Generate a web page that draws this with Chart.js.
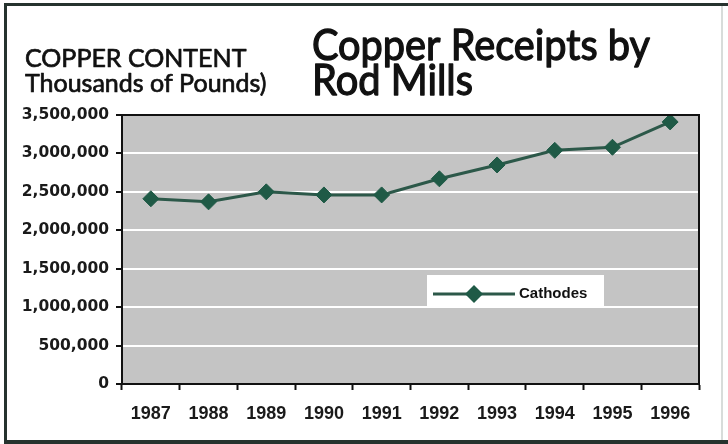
<!DOCTYPE html>
<html>
<head>
<meta charset="utf-8">
<script src="https://cdn.jsdelivr.net/npm/chart.js@4.4.1/dist/chart.umd.min.js"></script>
<style>
  html, body { margin: 0; padding: 0; background: #fff; }
  #chart { display: block; }
</style>
</head>
<body>
<canvas id="chart" width="728" height="444"></canvas>
<script>
// data
const years = ["1987", "1988", "1989", "1990", "1991", "1992", "1993", "1994", "1995", "1996"];
const cathodes = [2410000, 2370000, 2500000, 2460000, 2460000, 2670000, 2850000, 3040000, 3080000, 3410000];
const yTicks = [0, 500000, 1000000, 1500000, 2000000, 2500000, 3000000, 3500000];

const titleLines = ["Copper Receipts by", "Rod Mills"];
const unitLines = ["COPPER CONTENT", "Thousands of Pounds)"];

const GREEN = "#1f5a46";
const LINE = "#2c5849";
const PLOT_BG = "#c4c4c4";

// draw a text squeezed to a given width, slightly emboldened
function fitText(ctx, text, x, y, width, weight) {
  const w = ctx.measureText(text).width;
  ctx.save();
  ctx.translate(x, y);
  ctx.scale(Math.min(1, width / w), 1);
  ctx.fillText(text, 0, 0);
  if (weight) {
    ctx.lineWidth = weight;
    ctx.strokeText(text, 0, 0);
  }
  ctx.restore();
}

const decorPlugin = {
  id: "decor",
  beforeDraw(chart) {
    const ctx = chart.ctx;
    const a = chart.chartArea;
    ctx.save();
    // plot background
    ctx.fillStyle = PLOT_BG;
    ctx.fillRect(a.left, a.top, a.right - a.left, a.bottom - a.top);
    // page frame
    ctx.fillStyle = "#26332e";
    ctx.fillRect(4, 3, 724, 3);
    ctx.fillRect(4, 3, 3, 441);
    ctx.fillRect(4, 440, 724, 4);
    ctx.fillStyle = "#d8dcda";
    ctx.fillRect(721, 6, 2, 434);
    // headings
    ctx.fillStyle = "#111";
    ctx.strokeStyle = "#111";
    ctx.lineJoin = "round";
    ctx.textBaseline = "alphabetic";
    ctx.font = "42px Lato";
    fitText(ctx, titleLines[0], 312, 60, 338, 1.3);
    fitText(ctx, titleLines[1], 312, 95, 161, 1.3);
    ctx.font = "25px Lato";
    fitText(ctx, unitLines[0], 25, 67, 230, 0.7);
    fitText(ctx, unitLines[1], 25, 92, 257, 0.7);
    ctx.restore();
  },
  afterDatasetsDraw(chart) {
    const ctx = chart.ctx;
    const a = chart.chartArea;
    ctx.save();
    // plot border
    ctx.strokeStyle = "#111";
    ctx.lineWidth = 2;
    ctx.strokeRect(a.left, a.top, a.right - a.left, a.bottom - a.top);
    // legend box
    const ds = chart.data.datasets[0];
    const bx = a.left + 305, by = a.top + 160;
    ctx.fillStyle = "#fff";
    ctx.fillRect(bx, by, 177, 33);
    const cy = by + 19;
    ctx.strokeStyle = ds.borderColor;
    ctx.lineWidth = 3;
    ctx.beginPath();
    ctx.moveTo(bx + 6, cy);
    ctx.lineTo(bx + 88, cy);
    ctx.stroke();
    ctx.fillStyle = ds.pointBackgroundColor;
    ctx.beginPath();
    ctx.moveTo(bx + 47, cy - 9);
    ctx.lineTo(bx + 56, cy);
    ctx.lineTo(bx + 47, cy + 9);
    ctx.lineTo(bx + 38, cy);
    ctx.closePath();
    ctx.fill();
    ctx.fillStyle = "#111";
    ctx.font = "bold 15px 'Liberation Sans', Arial";
    ctx.textBaseline = "middle";
    ctx.fillText(ds.label, bx + 92, cy);
    ctx.restore();
  }
};

new Chart(document.getElementById("chart"), {
  type: "line",
  data: {
    labels: years,
    datasets: [{
      label: "Cathodes",
      data: cathodes,
      borderColor: LINE,
      borderWidth: 3,
      pointStyle: "rectRot",
      pointRadius: 8,
      pointBackgroundColor: GREEN,
      pointBorderColor: GREEN,
      pointBorderWidth: 1,
      tension: 0
    }]
  },
  options: {
    responsive: false,
    animation: false,
    layout: { padding: { top: 115, right: 29, left: 0, bottom: 0 } },
    plugins: {
      legend: { display: false },
      tooltip: { enabled: false }
    },
    scales: {
      x: {
        offset: true,
        afterFit(scale) { scale.height = 60; },
        grid: {
          offset: true,
          drawOnChartArea: false,
          tickColor: "#111",
          tickLength: 6,
          tickWidth: 2
        },
        border: { color: "#111", width: 2 },
        ticks: {
          color: "#1a1a1a",
          padding: 13,
          maxRotation: 0,
          font: { family: "'Liberation Sans', Arial", size: 18, weight: "bold" }
        }
      },
      y: {
        min: 0,
        max: 3500000,
        afterFit(scale) { scale.width = 122; },
        afterBuildTicks(scale) { scale.ticks = yTicks.map(v => ({ value: v })); },
        grid: {
          color: "#ffffff",
          lineWidth: 2,
          tickColor: "#111",
          tickLength: 6,
          tickWidth: 2
        },
        border: { color: "#111", width: 2 },
        ticks: {
          color: "#1a1a1a",
          padding: 7,
          font: { family: "'DejaVu Sans'", size: 15.5, weight: "bold" },
          callback: v => v.toLocaleString("en-US")
        }
      }
    }
  },
  plugins: [decorPlugin]
});
</script>
</body>
</html>
